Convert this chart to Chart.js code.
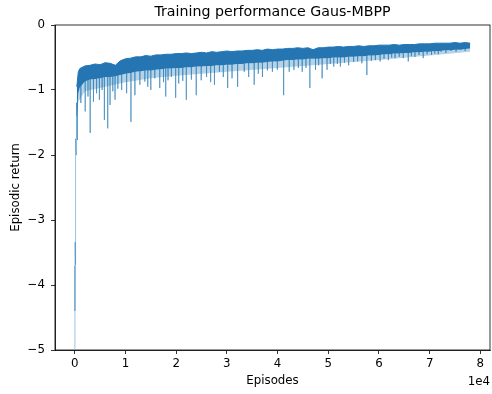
<!DOCTYPE html>
<html><head><meta charset="utf-8">
<script src="https://cdn.jsdelivr.net/npm/chart.js@4/dist/chart.umd.min.js"></script>
<style>html,body{margin:0;padding:0;background:#fff}#wrap{width:492px;height:394px}</style>
</head><body><div id="wrap"><canvas id="c" width="492" height="394"></canvas></div>
<script>
const chartTitle = 'Training performance Gaus-MBPP';
const xLabel = 'Episodes';
const yLabel = 'Episodic return';
const xOffsetLabel = '1e4';
const xTickValues = [0, 10000, 20000, 30000, 40000, 50000, 60000, 70000, 80000];
const xTickLabels = ['0', '1', '2', '3', '4', '5', '6', '7', '8'];
const yTickValues = [-5, -4, -3, -2, -1, 0];
const yTickLabels = ['\u22125', '\u22124', '\u22123', '\u22122', '\u22121', '0'];

// first few hundred episodes (steep climb)
const startEpisodes = [0, 20, 40, 60, 80, 100, 120, 150, 180, 210, 240, 270, 300, 330, 360, 400];
const startReturns = [-4.98, -3.70, -4.40, -3.34, -3.69, -2.90, -2.50, -2.85, -2.10, -2.60, -1.75, -2.00, -1.45, -1.60, -1.20, -1.40];

// dense band of returns: upper and lower edge
const bandEpisodes = [400, 700, 1000, 2000, 3000, 4000, 5000, 6000, 7000, 8000, 9000, 10000,
  11000, 12000, 13000, 14000, 15000, 16000, 17000, 18000, 19000, 20000, 21000, 22000, 23000, 24000,
  25000, 26000, 27000, 28000, 29000, 30000, 31000, 32000, 33000, 34000, 35000, 36000, 37000, 38000,
  39000, 40000, 41000, 42000, 43000, 44000, 45000, 46000, 47000, 48000, 49000, 50000, 51000, 52000,
  53000, 54000, 55000, 56000, 57000, 58000, 59000, 60000, 61000, 62000, 63000, 64000, 65000, 66000,
  67000, 68000, 69000, 70000, 71000, 72000, 73000, 74000, 75000, 76000, 77000, 78000];
const bandTop = [-0.95, -0.72, -0.67, -0.63, -0.62, -0.60, -0.61, -0.58, -0.59, -0.62, -0.55, -0.52,
  -0.51, -0.49, -0.49, -0.47, -0.48, -0.46, -0.46, -0.45, -0.45, -0.44, -0.44, -0.43, -0.44, -0.43,
  -0.42, -0.43, -0.41, -0.42, -0.41, -0.40, -0.41, -0.40, -0.40, -0.39, -0.39, -0.38, -0.39, -0.37,
  -0.38, -0.37, -0.37, -0.36, -0.36, -0.35, -0.36, -0.35, -0.38, -0.35, -0.35, -0.34, -0.34, -0.33,
  -0.34, -0.33, -0.33, -0.32, -0.33, -0.32, -0.32, -0.31, -0.31, -0.31, -0.30, -0.31, -0.30, -0.30,
  -0.30, -0.29, -0.29, -0.29, -0.28, -0.28, -0.28, -0.28, -0.27, -0.28, -0.27, -0.28];
const bandBottom = [-1.40, -1.05, -0.96, -0.87, -0.84, -0.83, -0.82, -0.80, -0.80, -0.79, -0.77, -0.75,
  -0.74, -0.72, -0.71, -0.70, -0.70, -0.69, -0.68, -0.67, -0.67, -0.66, -0.66, -0.65, -0.65, -0.64,
  -0.64, -0.63, -0.63, -0.62, -0.62, -0.61, -0.61, -0.60, -0.60, -0.59, -0.59, -0.58, -0.58, -0.57,
  -0.56, -0.56, -0.55, -0.54, -0.54, -0.53, -0.53, -0.52, -0.52, -0.52, -0.51, -0.51, -0.50, -0.50,
  -0.50, -0.49, -0.49, -0.48, -0.48, -0.47, -0.47, -0.46, -0.45, -0.45, -0.44, -0.44, -0.43, -0.43,
  -0.42, -0.42, -0.41, -0.41, -0.40, -0.40, -0.39, -0.39, -0.38, -0.38, -0.37, -0.36];

// lower edge of the frequent short dips just under the dense band
const fringeEpisodes = [400, 700, 2000, 5000, 10000, 15000, 20000, 30000, 40000, 50000, 60000, 70000, 78000];
const fringeReturns = [-1.45, -1.18, -1.02, -0.97, -0.88, -0.82, -0.78, -0.72, -0.66, -0.60, -0.54, -0.47, -0.41];

// isolated low-return episodes (downward spikes)
const spikeEpisodes = [500, 1200, 2060, 2600, 3040, 3690, 4300, 4860, 5400, 5840, 6500, 6960, 7500, 7940,
  8500, 9250, 10230, 11080, 11860, 12840, 13820, 14400, 15000, 15780, 16760, 17500, 17940, 18400, 19060,
  19900, 20500, 21300, 22000, 23000, 23960, 24940, 26000, 26800, 27550, 28530, 29300, 30160, 31020,
  32120, 33430, 34300, 35390, 36200, 37020, 38000, 38980, 39960, 41200, 42300, 43230, 44100, 44860,
  45600, 46370, 47490, 48100, 48790, 49760, 50400, 51080, 51800, 52390, 53200, 54020, 55000, 55800,
  56630, 57610, 58500, 59300, 60230, 61000, 61860, 62500, 63180, 64000, 64800, 65780, 66400, 67100,
  67900, 68730, 69500, 70360, 71000, 71700, 72260, 73200, 74220, 75200, 76180, 77000];
const spikeReturns = [-1.77, -1.20, -1.33, -1.10, -1.66, -1.18, -1.05, -1.15, -1.00, -1.46, -1.59, -1.23, -1.02, -1.15,
  -0.98, -1.00, -1.05, -1.49, -1.08, -0.92, -0.87, -0.95, -1.00, -0.82, -0.97, -0.88, -1.10, -0.85, -0.80,
  -1.12, -0.90, -0.86, -1.15, -0.84, -1.08, -0.85, -0.80, -0.88, -0.92, -0.72, -0.80, -0.97, -0.82,
  -0.95, -0.72, -0.80, -0.92, -0.75, -0.80, -0.70, -0.72, -0.69, -1.08, -0.72, -0.69, -0.66, -0.72,
  -0.66, -0.97, -0.69, -0.62, -0.82, -0.69, -0.60, -0.64, -0.60, -0.64, -0.58, -0.62, -0.57, -0.56,
  -0.59, -0.77, -0.55, -0.54, -0.56, -0.52, -0.54, -0.50, -0.51, -0.49, -0.51, -0.56, -0.48, -0.49,
  -0.46, -0.51, -0.45, -0.46, -0.44, -0.45, -0.41, -0.43, -0.40, -0.41, -0.38, -0.40];

const BLUE = '#1f77b4';
const FONT = 'DejaVu Sans';

function nearestBandMid(ep) {
  let best = 0;
  for (let i = 1; i < bandEpisodes.length; i++) {
    if (Math.abs(bandEpisodes[i] - ep) < Math.abs(bandEpisodes[best] - ep)) best = i;
  }
  return (bandTop[best] + bandBottom[best]) / 2;
}

const spikeData = [];
spikeEpisodes.forEach((ep, i) => {
  spikeData.push({x: ep, y: nearestBandMid(ep)});
  spikeData.push({x: ep, y: spikeReturns[i]});
  spikeData.push({x: ep, y: null});
});

const frame = {
  id: 'frame',
  afterDraw(chart) {
    const {ctx, chartArea: a} = chart;
    ctx.save();
    ctx.strokeStyle = '#000';
    ctx.lineWidth = 0.8;
    ctx.strokeRect(a.left, a.top, a.right - a.left, a.bottom - a.top);
    ctx.fillStyle = '#000';
    ctx.font = '14.2px "' + FONT + '"';
    ctx.textAlign = 'center';
    ctx.textBaseline = 'middle';
    ctx.fillText(chartTitle, (a.left + a.right) / 2, 12);
    ctx.font = '11.8px "' + FONT + '"';
    ctx.textAlign = 'right';
    ctx.fillText(xOffsetLabel, a.right, 382);
    ctx.restore();
  }
};

new Chart(document.getElementById('c'), {
  type: 'line',
  data: {
    datasets: [
      {
        data: bandEpisodes.map((x, i) => ({x, y: bandTop[i]})),
        borderColor: BLUE, borderWidth: 1, pointRadius: 0, tension: 0,
        fill: '+1', backgroundColor: '#2575b3'
      },
      {
        data: bandEpisodes.map((x, i) => ({x, y: bandBottom[i]})),
        borderWidth: 0, borderColor: 'rgba(0,0,0,0)', pointRadius: 0, tension: 0,
        fill: '+1', backgroundColor: 'rgba(31,119,180,0.33)'
      },
      {
        data: fringeEpisodes.map((x, i) => ({x, y: fringeReturns[i]})),
        borderWidth: 0, borderColor: 'rgba(0,0,0,0)', pointRadius: 0, tension: 0, fill: false
      },
      {
        data: startEpisodes.map((x, i) => ({x, y: startReturns[i]})),
        borderColor: 'rgba(31,119,180,0.45)', borderWidth: 1, pointRadius: 0, tension: 0, fill: false
      },
      {
        data: spikeData,
        borderColor: 'rgba(31,119,180,0.42)', borderWidth: 1, pointRadius: 0, tension: 0, fill: false,
        spanGaps: false
      }
    ]
  },
  options: {
    responsive: false,
    animation: false,
    devicePixelRatio: 1,
    layout: {padding: {top: 25, right: 2, left: 0, bottom: 0}},
    plugins: {legend: {display: false}, tooltip: {enabled: false}, title: {display: false}},
    scales: {
      x: {
        type: 'linear', min: -3900, max: 81900,
        afterBuildTicks: s => { s.ticks = xTickValues.map(v => ({value: v})); },
        afterFit: s => { s.height = 44; },
        ticks: {
          autoSkip: false, maxRotation: 0, includeBounds: false, padding: 3, color: '#000',
          font: {family: FONT, size: 11.8},
          callback: v => xTickLabels[xTickValues.indexOf(v)]
        },
        grid: {drawOnChartArea: false, drawTicks: true, tickLength: 4, color: '#000', lineWidth: 0.8},
        border: {display: true, color: '#000', width: 0.8},
        title: {display: true, text: xLabel, color: '#000', font: {family: FONT, size: 11.8}, padding: {top: 0, bottom: 6}}
      },
      y: {
        type: 'linear', min: -5, max: 0,
        afterBuildTicks: s => { s.ticks = yTickValues.map(v => ({value: v})); },
        afterFit: s => { s.width = 55; },
        ticks: {
          autoSkip: false, includeBounds: false, padding: 6, color: '#000',
          font: {family: FONT, size: 11.8},
          callback: v => yTickLabels[yTickValues.indexOf(v)]
        },
        grid: {drawOnChartArea: false, drawTicks: true, tickLength: 4, color: '#000', lineWidth: 0.8},
        border: {display: true, color: '#000', width: 0.8},
        title: {display: true, text: yLabel, color: '#000', font: {family: FONT, size: 11.8}, padding: {top: 9, bottom: 0}}
      }
    }
  },
  plugins: [frame]
});
</script>
</body></html>
